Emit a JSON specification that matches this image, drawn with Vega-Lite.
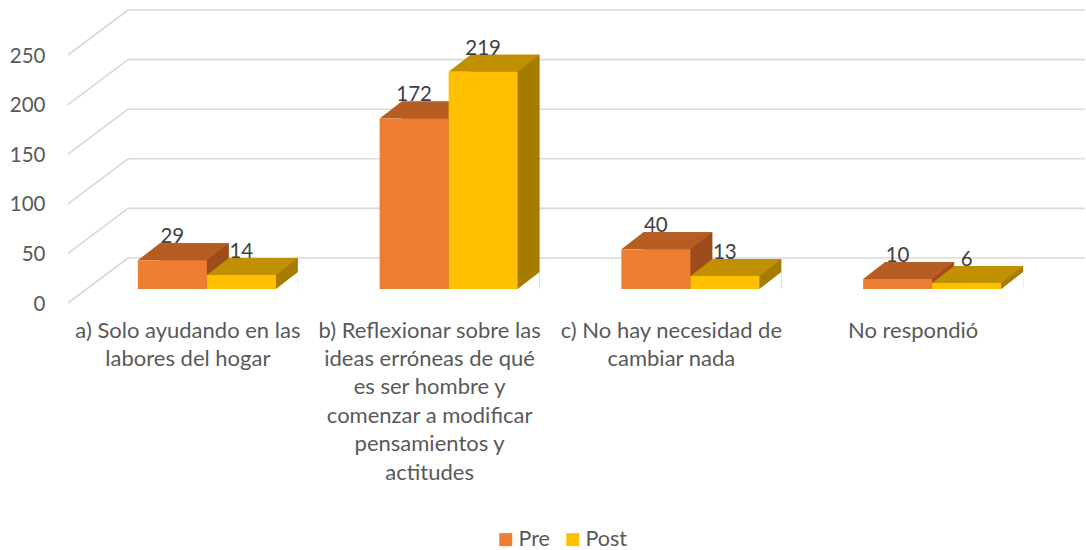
{
  "$schema": "https://vega.github.io/schema/vega-lite/v6.json",
  "width": 957,
  "height": 279,
  "autosize": {"type": "none"},
  "padding": {"left": 128, "top": 10, "right": 1, "bottom": 261},
  "background": "white",
  "config": {
    "view": {"stroke": null},
    "font": "Lato",
    "text": {"font": "Lato"}
  },
  "datasets": {
    "barras": [
      {"cat": "a) Solo ayudando en las\nlabores del hogar", "grupo": "Pre", "valor": 29},
      {"cat": "a) Solo ayudando en las\nlabores del hogar", "grupo": "Post", "valor": 14},
      {"cat": "b) Reflexionar sobre las\nideas erróneas de qué\nes ser hombre y\ncomenzar a modificar\npensamientos y\nactitudes", "grupo": "Pre", "valor": 172},
      {"cat": "b) Reflexionar sobre las\nideas erróneas de qué\nes ser hombre y\ncomenzar a modificar\npensamientos y\nactitudes", "grupo": "Post", "valor": 219},
      {"cat": "c) No hay necesidad de\ncambiar nada", "grupo": "Pre", "valor": 40},
      {"cat": "c) No hay necesidad de\ncambiar nada", "grupo": "Post", "valor": 13},
      {"cat": "No respondió", "grupo": "Pre", "valor": 10},
      {"cat": "No respondió", "grupo": "Post", "valor": 6}
    ],
    "ejes": [{"v": 0}, {"v": 50}, {"v": 100}, {"v": 150}, {"v": 200}, {"v": 250}]
  },
  "layer": [
    {
      "data": {"name": "ejes"},
      "mark": {"type": "rule", "yOffset": -31, "stroke": "#D9D9D9", "strokeWidth": 1.6},
      "encoding": {
        "y": {
          "field": "v", "type": "quantitative",
          "scale": {"domain": [0, 281.25], "nice": false},
          "axis": {
            "title": null, "values": [0, 50, 100, 150, 200, 250], "grid": false,
            "domain": false, "ticks": false, "tickSize": 0,
            "labelPadding": 83, "labelOffset": 15, "labelFontSize": 20.5, "labelFont": "Lato",
            "labelColor": "#595959", "labelBaseline": "middle", "labelAlign": "right"
          }
        }
      }
    },
    {
      "data": {"name": "ejes"},
      "mark": {"type": "point", "shape": "M42,-31L-18,14", "size": 4, "filled": false, "stroke": "#D9D9D9", "strokeWidth": 1.6, "opacity": 1},
      "encoding": {
        "x": {"datum": "a) Solo ayudando en las\nlabores del hogar", "type": "nominal", "bandPosition": 0},
        "y": {"field": "v", "type": "quantitative"}
      }
    },
    {
      "data": {"name": "barras"},
      "transform": [{"filter": "datum.grupo === 'Pre'"}],
      "mark": {"type": "bar", "width": 69, "xOffset": -12.5, "yOffset": -17, "fill": "#9E4C1B"},
      "encoding": {
        "x": {
          "field": "cat", "type": "nominal", "sort": null,
          "scale": {"range": [-42, 925], "paddingInner": 0, "paddingOuter": 0},
          "axis": {
            "orient": "bottom", "title": null, "labelAngle": 0, "labelOffset": -19,
            "labelPadding": 48, "labelBaseline": "alphabetic", "labelLineHeight": 28.4,
            "labelFontSize": 22, "labelFont": "Lato", "labelColor": "#595959",
            "labelExpr": "split(datum.label, '\\n')", "domain": false, "ticks": false,
            "tickSize": 0, "grid": false, "labelLimit": 0, "labelOverlap": false, "labelAlign": "center"
          }
        },
        "y": {"field": "valor", "type": "quantitative", "stack": null}
      }
    },
    {
      "data": {"name": "barras"},
      "transform": [{"filter": "datum.grupo === 'Post'"}],
      "mark": {"type": "bar", "width": 69, "xOffset": 56.5, "yOffset": -17, "fill": "#A67C00"},
      "encoding": {
        "x": {"field": "cat", "type": "nominal", "sort": null},
        "y": {"field": "valor", "type": "quantitative", "stack": null}
      }
    },
    {
      "data": {"name": "barras"},
      "mark": {"type": "point", "shape": "M34.5,0L56.5,0L56.5,-17Z", "size": 4, "filled": true, "opacity": 1, "strokeWidth": 0, "fill": "white"},
      "encoding": {
        "x": {"field": "cat", "type": "nominal", "sort": null},
        "xOffset": {"field": "grupo", "type": "nominal", "sort": ["Pre", "Post"], "scale": {"paddingInner": 0, "paddingOuter": 0.7518}},
        "y": {"datum": 0, "type": "quantitative"}
      }
    },
    {
      "data": {"name": "barras"},
      "mark": {"type": "point", "shape": "M-34.5,0L34.5,0L56.5,-17L-12.5,-17Z", "size": 4, "filled": true, "opacity": 1, "strokeWidth": 0},
      "encoding": {
        "x": {"field": "cat", "type": "nominal", "sort": null},
        "xOffset": {"field": "grupo", "type": "nominal", "sort": ["Pre", "Post"]},
        "y": {"field": "valor", "type": "quantitative", "stack": null},
        "fill": {"condition": {"test": "datum.grupo === 'Pre'", "value": "#B55D22"}, "value": "#C09000"}
      }
    },
    {
      "data": {"name": "barras"},
      "mark": {"type": "bar"},
      "encoding": {
        "x": {"field": "cat", "type": "nominal", "sort": null},
        "xOffset": {"field": "grupo", "type": "nominal", "sort": ["Pre", "Post"]},
        "y": {"field": "valor", "type": "quantitative", "stack": null},
        "color": {
          "field": "grupo", "type": "nominal",
          "scale": {"domain": ["Pre", "Post"], "range": ["#ED7D31", "#FFC000"]},
          "legend": {
            "title": null, "orient": "none", "legendX": 367, "legendY": 518.5, "direction": "horizontal",
            "symbolType": "square", "symbolSize": 169, "symbolStrokeWidth": 0,
            "labelFontSize": 21.5, "labelFont": "Lato", "labelColor": "#595959", "labelOffset": 2,
            "columnPadding": 12, "padding": 0
          }
        }
      }
    },
    {
      "data": {"name": "barras"},
      "mark": {"type": "text", "yOffset": -17, "baseline": "alphabetic", "align": "center", "fontSize": 20.5, "font": "Lato", "color": "#404040"},
      "encoding": {
        "x": {"field": "cat", "type": "nominal", "sort": null},
        "xOffset": {"field": "grupo", "type": "nominal", "sort": ["Pre", "Post"]},
        "y": {"field": "valor", "type": "quantitative", "stack": null},
        "text": {"field": "valor", "type": "quantitative"}
      }
    }
  ]
}
